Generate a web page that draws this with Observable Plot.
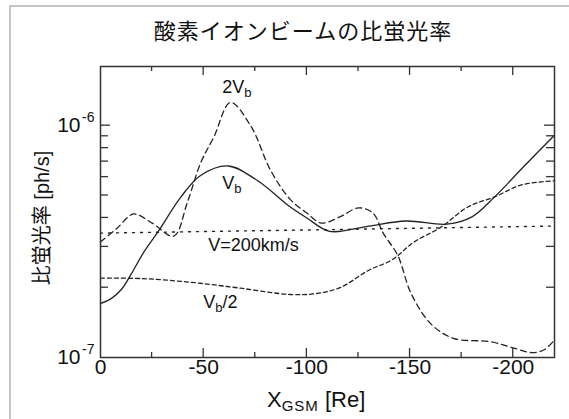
<!DOCTYPE html>
<html><head><meta charset="utf-8">
<script src="https://cdn.jsdelivr.net/npm/d3@7"></script>
<script src="https://cdn.jsdelivr.net/npm/@observablehq/plot@0.6"></script>
<style>
body{margin:0;background:#fff;}
#wrap{position:relative;width:569px;height:419px;overflow:hidden;font-family:"Liberation Sans",Arial,sans-serif;}
#border{position:absolute;left:9px;top:5px;width:600px;height:412px;border-top:2px solid #c6c6c6;border-left:2px solid #c6c6c6;}
#title{position:absolute;left:103px;width:400px;top:13px;text-align:center;font-size:22px;font-family:"Noto Sans CJK JP",sans-serif;color:#111;letter-spacing:1px;}
#chart{position:absolute;left:0;top:0;}
</style></head>
<body>
<div id="wrap"><div id="border"></div><div id="chart"></div><div id="title">酸素イオンビームの比蛍光率</div></div>
<script>
// ---- data ----
const titleText = "酸素イオンビームの比蛍光率";
const xTicks = [0, -50, -100, -150, -200];
const xMinor = [-25, -75, -125, -175];
const yTicks = [1e-7, 1e-6];
const yMinor = [2e-7, 3e-7, 4e-7, 5e-7, 6e-7, 7e-7, 8e-7, 9e-7];

const xVb = [0, -5, -10, -15, -21, -28, -39, -48.5, -62, -76, -92, -100, -111, -130, -148, -168, -180, -191, -205, -220];
const yVb = [1.71e-7, 1.79e-7, 1.96e-7, 2.3e-7, 2.85e-7, 3.5e-7, 4.93e-7, 6.1e-7, 6.7e-7, 5.8e-7, 4.46e-7, 4.0e-7, 3.5e-7, 3.69e-7, 3.88e-7, 3.76e-7, 4.04e-7, 4.93e-7, 6.65e-7, 9.1e-7];

const x2Vb = [0, -8, -16, -25, -35.5, -42, -48.5, -55, -63, -73, -82.5, -92, -100, -107, -116, -125, -132, -137, -144, -150.5, -160, -171, -189, -200, -209, -215, -220];
const y2Vb = [3.15e-7, 3.61e-7, 4.16e-7, 3.8e-7, 3.34e-7, 4.64e-7, 6.9e-7, 8.96e-7, 1.26e-6, 9.9e-7, 6.4e-7, 4.8e-7, 4.2e-7, 3.8e-7, 4.04e-7, 4.42e-7, 4.2e-7, 3.44e-7, 2.76e-7, 1.89e-7, 1.4e-7, 1.21e-7, 1.17e-7, 1.1e-7, 1.05e-7, 1.08e-7, 1.19e-7];

const xHalf = [0, -20, -44, -68, -92, -105, -116.5, -130, -141, -152, -165, -178, -191, -204, -220];
const yHalf = [2.2e-7, 2.19e-7, 2.11e-7, 1.99e-7, 1.87e-7, 1.89e-7, 2.01e-7, 2.38e-7, 2.63e-7, 3.15e-7, 3.65e-7, 4.46e-7, 4.93e-7, 5.55e-7, 5.78e-7];

const xV200 = [0, -110, -220];
const yV200 = [3.44e-7, 3.56e-7, 3.69e-7];

// curve labels: [main, subscript, tail], position in data units (start of text, middle of text)
const labelMain = ["2V", "V", "V=200km/s", "V"];
const labelSub = ["b", "b", "", "b"];
const labelTail = ["", "", "", "/2"];
const labelX = [-59.2, -59.2, -52.4, -50];
const labelY = [1.46e-6, 5.66e-7, 3.05e-7, 1.73e-7];

const toRows = (xs, ys) => xs.map((x, i) => ({x, y: ys[i]}));

const chart = Plot.plot({
  width: 569, height: 419,
  marginLeft: 100, marginRight: 15, marginTop: 66, marginBottom: 62,
  style: {fontFamily: "Liberation Sans, Arial, sans-serif", background: "transparent"},
  x: {domain: [0, -220], axis: null},
  y: {type: "log", domain: [1e-7, 1.8e-6], axis: null},
  marks: [
    Plot.line(toRows(xV200, yV200), {x: "x", y: "y", stroke: "#222", strokeWidth: 1.4, strokeDasharray: "2,6"}),
    Plot.line(toRows(xHalf, yHalf), {x: "x", y: "y", curve: "catmull-rom", stroke: "#222", strokeWidth: 1.3, strokeDasharray: "4,3"}),
    Plot.line(toRows(x2Vb, y2Vb), {x: "x", y: "y", curve: "catmull-rom", stroke: "#222", strokeWidth: 1.3, strokeDasharray: "6,4"}),
    Plot.line(toRows(xVb, yVb), {x: "x", y: "y", curve: "catmull-rom", stroke: "#222", strokeWidth: 1.3}),
    Plot.frame({stroke: "#333", strokeWidth: 1.5}),
    Plot.text(xTicks, {x: d => d, frameAnchor: "bottom", dy: 16, text: d => String(d), fontSize: 21, fill: "#111"}),
    Plot.text(yTicks, {y: d => d, frameAnchor: "left", dx: -20, textAnchor: "end", text: () => "10", fontSize: 21, fill: "#111"}),
    Plot.text(yTicks, {y: d => d, frameAnchor: "left", dx: -6, dy: -8, textAnchor: "end", text: d => String(Math.round(Math.log10(d))), fontSize: 14, fill: "#111"})
  ]
});
document.getElementById("chart").appendChild(chart);

const sx = chart.scale("x"), sy = chart.scale("y");
const svg = d3.select(chart);
const L = 100, R = 554, T = 66, B = 357;
const g = svg.append("g").attr("stroke", "#333").attr("stroke-width", 1.3);
function xt(vals, len) {
  vals.forEach(v => {
    const px = sx.apply(v);
    g.append("line").attr("x1", px).attr("x2", px).attr("y1", B).attr("y2", B - len);
    g.append("line").attr("x1", px).attr("x2", px).attr("y1", T).attr("y2", T + len);
  });
}
function yt(vals, len) {
  vals.forEach(v => {
    const py = sy.apply(v);
    g.append("line").attr("y1", py).attr("y2", py).attr("x1", L).attr("x2", L + len);
    g.append("line").attr("y1", py).attr("y2", py).attr("x1", R).attr("x2", R - len);
  });
}
xt(xTicks.slice(1), 9); xt(xMinor, 5);
yt(yTicks.slice(1), 10); yt(yMinor, 8);

// curve labels
labelMain.forEach((m, i) => {
  const t = svg.append("text").attr("x", sx.apply(labelX[i])).attr("y", sy.apply(labelY[i]))
    .attr("dy", "0.35em").attr("text-anchor", "start").attr("font-size", 18).attr("fill", "#111");
  t.append("tspan").text(m);
  if (labelSub[i]) t.append("tspan").attr("font-size", 13).attr("dy", 4).text(labelSub[i]);
  if (labelTail[i]) t.append("tspan").attr("dy", -4).text(labelTail[i]);
});

// axis titles
const xl = svg.append("text").attr("x", 267).attr("y", 407).attr("text-anchor", "start").attr("font-size", 22).attr("fill", "#111");
xl.append("tspan").text("X");
xl.append("tspan").attr("font-size", 15).attr("dy", 4).attr("letter-spacing", 1).text("GSM");
xl.append("tspan").attr("dy", -4).text(" [Re]");
svg.append("text").attr("transform", "translate(49,218) rotate(-90)").attr("text-anchor", "middle")
  .attr("font-size", 20).attr("fill", "#111").attr("font-family", "Liberation Sans, Noto Sans CJK JP, sans-serif")
  .text("比蛍光率 [ph/s]");
</script>
</body></html>
